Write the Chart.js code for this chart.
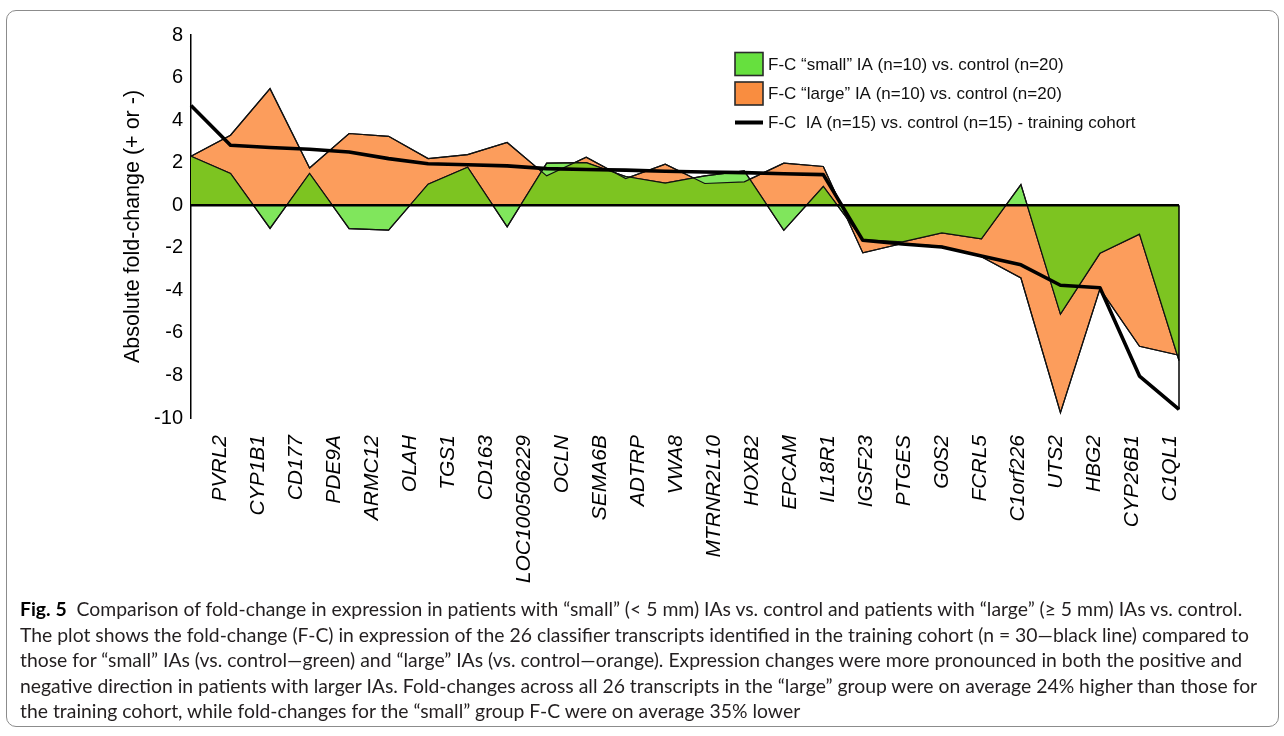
<!DOCTYPE html>
<html>
<head>
<meta charset="utf-8">
<script src="https://cdn.jsdelivr.net/npm/chart.js@4.4.1/dist/chart.umd.min.js"></script>
<style>
  html, body { margin: 0; padding: 0; background: #fff; width: 1284px; height: 736px; overflow: hidden; }
  #frame { position: absolute; left: 6px; top: 10px; width: 1273px; height: 717px; border: 1px solid #8c8c8c; border-radius: 10px; box-sizing: border-box; }
  #plot { position: absolute; left: 0; top: 0; }
  #caption { position: absolute; left: 20px; top: 596px; font-family: Lato, "Open Sans", sans-serif; font-size: 17px; line-height: 25.6px; color: #231f20; white-space: nowrap; }
  #caption b { font-weight: 700; color: #000; }
</style>
</head>
<body>
<div id="frame"></div>
<canvas id="plot" width="1284" height="600"></canvas>
<div id="caption">
  <div class="ln"><b>Fig. 5</b>&nbsp; Comparison of fold-change in expression in patients with “small” (&lt; 5 mm) IAs vs. control and patients with “large” (≥ 5 mm) IAs vs. control.</div>
  <div class="ln" id="ln2">The plot shows the fold-change (F-C) in expression of the 26 classifier transcripts identified in the training cohort (n = 30—black line) compared to</div>
  <div class="ln">those for “small” IAs (vs. control—green) and “large” IAs (vs. control—orange). Expression changes were more pronounced in both the positive and</div>
  <div class="ln">negative direction in patients with larger IAs. Fold-changes across all 26 transcripts in the “large” group were on average 24% higher than those for</div>
  <div class="ln">the training cohort, while fold-changes for the “small” group F-C were on average 35% lower</div>
</div>
<script>
// Classifier transcripts, in plotting order
const genes = ['PVRL2', 'CYP1B1', 'CD177', 'PDE9A', 'ARMC12', 'OLAH', 'TGS1', 'CD163',
  'LOC100506229', 'OCLN', 'SEMA6B', 'ADTRP', 'VWA8', 'MTRNR2L10', 'HOXB2', 'EPCAM',
  'IL18R1', 'IGSF23', 'PTGES', 'G0S2', 'FCRL5', 'C1orf226', 'UTS2', 'HBG2', 'CYP26B1', 'C1QL1'];

// Absolute fold-change, "small" IA (n=10) vs. control (n=20)
const smallIA = [2.3, 1.49, -1.09, 1.49, -1.1, -1.17, 0.99, 1.79, -1.02, 1.98, 2.0, 1.35, 1.04,
  1.38, 1.61, -1.18, 0.88, -1.62, -1.72, -1.3, -1.58, 0.97, -5.12, -2.26, -1.36, -7.3];

// Absolute fold-change, "large" IA (n=10) vs. control (n=20)
const largeIA = [2.3, 3.29, 5.48, 1.75, 3.37, 3.24, 2.19, 2.38, 2.95, 1.38, 2.26, 1.25, 1.93,
  1.02, 1.1, 1.98, 1.82, -2.24, -1.8, -1.93, -2.42, -3.42, -9.75, -3.93, -6.63, -7.05];

// Absolute fold-change, training cohort IA (n=15) vs. control (n=15)
const training = [4.69, 2.82, 2.71, 2.63, 2.5, 2.19, 1.95, 1.9, 1.85, 1.72, 1.68, 1.65, 1.6,
  1.56, 1.53, 1.48, 1.44, -1.65, -1.82, -1.96, -2.39, -2.8, -3.76, -3.88, -8.03, -9.6];

const yTicks = [8, 6, 4, 2, 0, -2, -4, -6, -8, -10];

const seriesLabels = [
  'F-C  IA (n=15) vs. control (n=15) - training cohort',
  'F-C \u201csmall\u201d IA (n=10) vs. control (n=20)',
  'F-C \u201clarge\u201d IA (n=10) vs. control (n=20)'
];

const COLORS = {
  smallOnly: '#80e65c',
  overlap: '#7dc421',
  large: '#fc9d5c',
  legendSmall: '#66e03e',
  legendLarge: '#f98d40'
};

// Caption sized so that its second line spans the figure width
(function fitCaption() {
  const ln = document.getElementById('ln2');
  const cap = document.getElementById('caption');
  const w = ln.getBoundingClientRect().width;
  const size = 17 * 1238 / w;
  cap.style.fontSize = size.toFixed(2) + 'px';
})();

function areaPath(meta, y0) {
  const pts = meta.data;
  const p = new Path2D();
  p.moveTo(pts[0].x, y0);
  pts.forEach(pt => p.lineTo(pt.x, pt.y));
  p.lineTo(pts[pts.length - 1].x, y0);
  p.closePath();
  return p;
}

function strokeSeries(ctx, meta) {
  const pts = meta.data;
  ctx.beginPath();
  ctx.moveTo(pts[0].x, pts[0].y);
  pts.forEach(pt => ctx.lineTo(pt.x, pt.y));
  ctx.stroke();
}

// Where both groups change in the same direction the shared area is shaded darker
const overlapShading = {
  id: 'overlapShading',
  afterDatasetDraw(chart, args) {
    if (args.index !== 1) return;
    const ctx = chart.ctx;
    const y0 = chart.scales.y.getPixelForValue(0);
    const mSmall = chart.getDatasetMeta(1);
    const mLarge = chart.getDatasetMeta(2);
    const area = chart.chartArea;
    ctx.save();
    ctx.beginPath();
    ctx.rect(area.left - 2, area.top - 2, area.width + 4, area.height + 4);
    ctx.clip();
    ctx.clip(areaPath(mLarge, y0));
    ctx.fillStyle = COLORS.overlap;
    ctx.fill(areaPath(mSmall, y0));
    ctx.restore();

    ctx.save();
    ctx.strokeStyle = '#111';
    ctx.lineWidth = 1.2;
    ctx.lineJoin = 'miter';
    strokeSeries(ctx, mLarge);
    strokeSeries(ctx, mSmall);
    // zero baseline
    ctx.lineWidth = 2.6;
    ctx.strokeStyle = '#000';
    ctx.beginPath();
    ctx.moveTo(area.left, y0);
    ctx.lineTo(area.right, y0);
    ctx.stroke();
    // closing edge at the last transcript
    const mTrain = chart.getDatasetMeta(0);
    const last = mTrain.data[mTrain.data.length - 1];
    ctx.lineWidth = 1.5;
    ctx.beginPath();
    ctx.moveTo(last.x, y0);
    ctx.lineTo(last.x, last.y);
    ctx.stroke();
    ctx.restore();
  }
};

// Legend in the upper right of the plot
const boxLegend = {
  id: 'boxLegend',
  afterDraw(chart) {
    const ctx = chart.ctx;
    const area = chart.chartArea;
    const x = area.right - 444;
    const rows = [
      { kind: 'box', fill: COLORS.legendSmall, text: seriesLabels[1], y: area.top + 29 },
      { kind: 'box', fill: COLORS.legendLarge, text: seriesLabels[2], y: area.top + 58.5 },
      { kind: 'line', text: seriesLabels[0], y: area.top + 87.5 }
    ];
    ctx.save();
    ctx.font = '17px "Liberation Sans", Arial, sans-serif';
    ctx.textBaseline = 'middle';
    ctx.textAlign = 'left';
    rows.forEach(r => {
      if (r.kind === 'box') {
        ctx.fillStyle = r.fill;
        ctx.fillRect(x, r.y - 11.5, 28, 23);
        ctx.strokeStyle = '#2a2a2a';
        ctx.lineWidth = 1.6;
        ctx.strokeRect(x, r.y - 11.5, 28, 23);
      } else {
        ctx.strokeStyle = '#000';
        ctx.lineWidth = 4;
        ctx.beginPath();
        ctx.moveTo(x, r.y);
        ctx.lineTo(x + 28, r.y);
        ctx.stroke();
      }
      ctx.fillStyle = '#111';
      ctx.fillText(r.text, x + 33, r.y + 1);
    });
    ctx.restore();
  }
};

new Chart(document.getElementById('plot'), {
  type: 'line',
  data: {
    labels: genes,
    datasets: [
      {
        label: seriesLabels[0],
        data: training,
        borderColor: '#000',
        borderWidth: 3.6,
        borderJoinStyle: 'round',
        pointRadius: 0,
        fill: false,
        tension: 0,
        order: 0
      },
      {
        label: seriesLabels[1],
        data: smallIA,
        borderColor: '#111',
        borderWidth: 1.2,
        backgroundColor: COLORS.smallOnly,
        pointRadius: 0,
        fill: 'origin',
        tension: 0,
        order: 1
      },
      {
        label: seriesLabels[2],
        data: largeIA,
        borderColor: '#111',
        borderWidth: 1.2,
        backgroundColor: COLORS.large,
        pointRadius: 0,
        fill: 'origin',
        tension: 0,
        order: 2
      }
    ]
  },
  options: {
    responsive: false,
    devicePixelRatio: 1,
    animation: false,
    layout: { padding: { left: 116, top: 35, right: 105, bottom: 0 } },
    plugins: {
      legend: { display: false },
      tooltip: { enabled: false }
    },
    scales: {
      x: {
        type: 'category',
        display: false,
        offset: false
      },
      genes: {
        type: 'linear',
        position: 'bottom',
        min: -0.763,
        max: 25.237,
        grid: { display: false, drawTicks: false },
        border: { display: false },
        afterBuildTicks: s => { s.ticks = genes.map((g, i) => ({ value: i })); },
        afterFit: s => { s.height = 182; },
        ticks: {
          autoSkip: false,
          minRotation: 90,
          maxRotation: 90,
          padding: 17,
          color: '#000',
          font: { family: '"Liberation Sans", Arial, sans-serif', size: 21, style: 'italic' },
          callback: v => genes[v]
        }
      },
      y: {
        min: -10,
        max: 8,
        afterBuildTicks: s => { s.ticks = yTicks.map(v => ({ value: v })); },
        afterFit: s => { s.width = 75; },
        grid: { display: false, drawTicks: false },
        border: { display: true, color: '#000', width: 1.5 },
        ticks: {
          padding: 8,
          color: '#000',
          font: { family: '"Liberation Sans", Arial, sans-serif', size: 20 }
        },
        title: {
          display: true,
          text: 'Absolute fold-change (+ or -)',
          color: '#000',
          font: { family: '"Liberation Sans", Arial, sans-serif', size: 21.5 },
          padding: { top: 4, bottom: 4 }
        }
      }
    }
  },
  plugins: [overlapShading, boxLegend]
});
</script>
</body>
</html>
